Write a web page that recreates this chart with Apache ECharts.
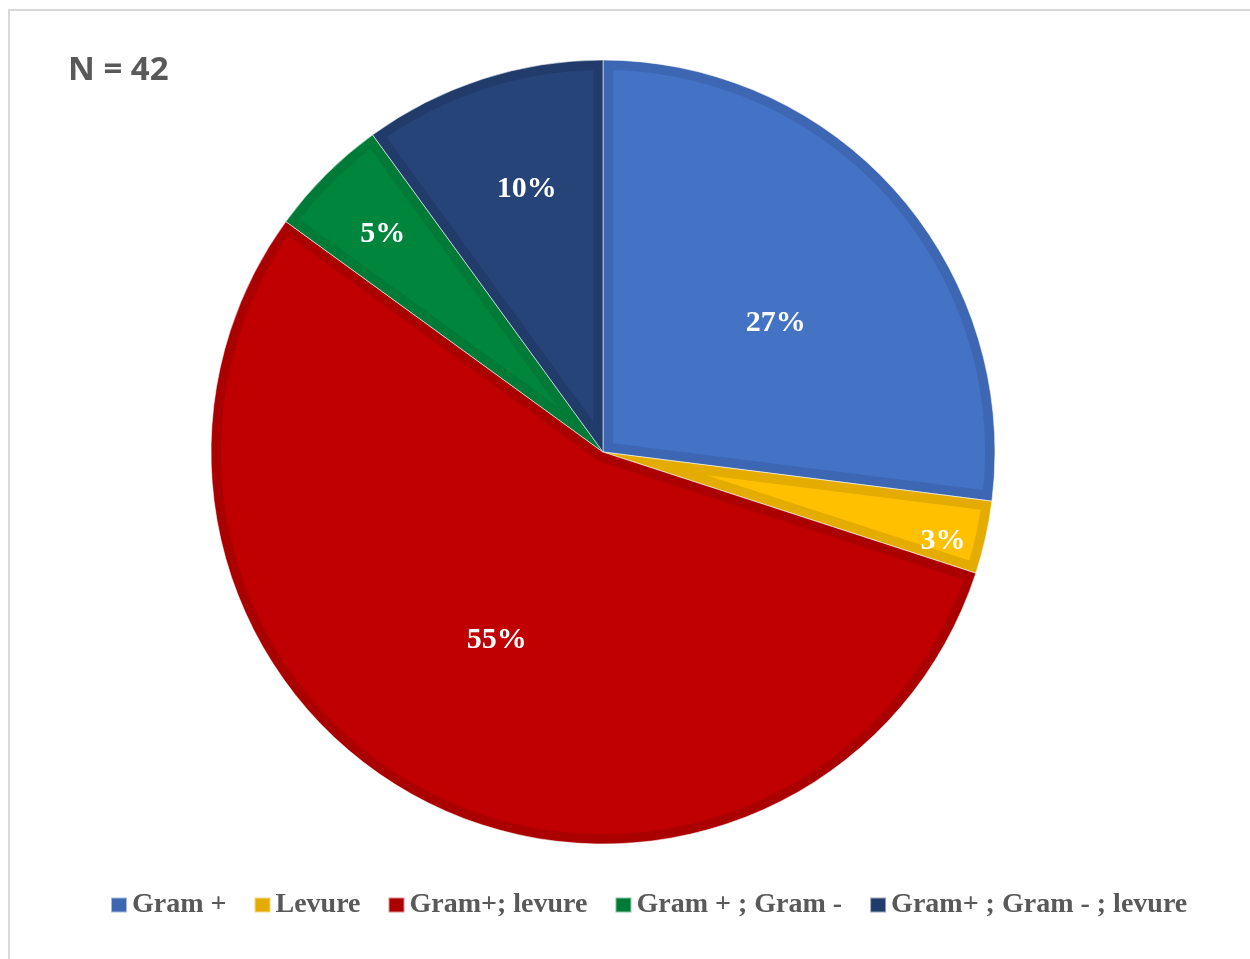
<!DOCTYPE html>
<html>
<head>
<meta charset="utf-8">
<script src="https://cdn.jsdelivr.net/npm/echarts@6/dist/echarts.min.js"></script>
<style>
  html, body { margin: 0; padding: 0; background: #ffffff; }
  #chart { width: 1250px; height: 959px; }
</style>
</head>
<body>
<div id="chart"></div>
<script>
// Categories of isolated organisms and their share of the sample (percent)
const categories = ['Gram +', 'Levure', 'Gram+; levure', 'Gram + ; Gram -', 'Gram+ ; Gram - ; levure'];
const shares = [27, 3, 55, 5, 10];
const sampleSize = 42;

// Slice fills and the darker rim colour of each slice
const fillColors = ['#4472C4', '#FFC000', '#C00000', '#00853D', '#264478'];
const rimColors = ['#3D67B3', '#E5AC00', '#AB0000', '#007A37', '#213C6B'];

// Pie geometry
const cx = 603, cy = 452, radius = 392, rim = 10;
// Percentage label placement: fraction of radius and small turn (degrees) from the slice middle
const labelReach = [0.555, 0.895, 0.545, 0.795, 0.705];
const labelTurn = [4, 1.7, 2.8, 0, 2];

const total = shares.reduce((a, b) => a + b, 0);

function polar(bearing, r) {
  return [cx + r * Math.sin(bearing), cy - r * Math.cos(bearing)];
}

// Lighter inner face of each slice, inset from the slice outline by the rim width
function renderFace(params, api) {
  const i = params.dataIndex;
  let before = 0;
  for (let k = 0; k < i; k++) before += shares[k];
  const a1 = before / total * 2 * Math.PI;
  const a2 = (before + api.value(0)) / total * 2 * Math.PI;
  const theta = a2 - a1;
  const mid = (a1 + a2) / 2;
  const inner = radius - rim;
  const phi = Math.asin(rim / inner);
  const pts = [polar(mid, rim / Math.sin(theta / 2))];
  const n = Math.max(12, Math.ceil(theta / 0.008));
  for (let s = 0; s <= n; s++) {
    pts.push(polar(a1 + phi + (theta - 2 * phi) * s / n, inner));
  }
  const lp = polar(mid + labelTurn[i] * Math.PI / 180, radius * labelReach[i]);
  return {
    type: 'group',
    children: [
      { type: 'polygon', shape: { points: pts }, style: { fill: fillColors[i] } },
      {
        type: 'text', x: lp[0], y: lp[1] + 3, z2: 10,
        style: {
          text: api.value(0) + '%', fill: '#ffffff',
          font: 'bold 30px "Liberation Serif"', align: 'center', verticalAlign: 'middle'
        }
      }
    ]
  };
}

const chart = echarts.init(document.getElementById('chart'), null, { renderer: 'canvas' });

chart.setOption({
  animation: false,
  backgroundColor: '#ffffff',
  graphic: [
    {
      type: 'rect', z: 0, silent: true,
      shape: { x: 9, y: 10, width: 1400, height: 1100 },
      style: { fill: 'none', stroke: '#D9D9D9', lineWidth: 2 }
    },
    {
      type: 'text', left: 68, top: 54, z: 10,
      style: {
        text: 'N = ' + sampleSize, fill: '#595959',
        font: 'bold 33px "Open Sans"'
      }
    }
  ],
  legend: {
    left: 110,
    top: 891,
    padding: 0,
    itemWidth: 16,
    itemHeight: 15,
    itemGap: 27,
    icon: 'rect',
    textStyle: {
      fontFamily: 'Liberation Serif',
      fontWeight: 'bold',
      fontSize: 28,
      color: '#595959'
    },
    data: categories
  },
  series: [
    {
      name: 'Isolats',
      type: 'pie',
      center: [cx, cy],
      radius: [0, radius],
      startAngle: 90,
      clockwise: true,
      z: 2,
      label: { show: false },
      labelLine: { show: false },
      emphasis: { disabled: true },
      itemStyle: { borderColor: 'rgba(255,255,255,0.55)', borderWidth: 1 },
      data: categories.map((name, i) => ({
        name, value: shares[i], itemStyle: { color: rimColors[i] }
      }))
    },
    {
      name: 'faces',
      type: 'custom',
      coordinateSystem: 'none',
      silent: true,
      z: 3,
      renderItem: renderFace,
      data: shares.map(v => [v])
    }
  ]
});
</script>
</body>
</html>
